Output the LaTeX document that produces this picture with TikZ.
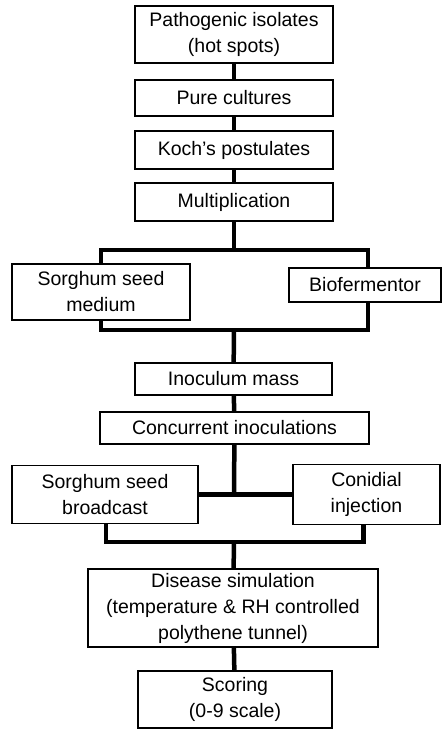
\documentclass[tikz,border=0pt]{standalone}
\usepackage{fontspec}
\setmainfont{Liberation Sans}
\begin{document}
\begin{tikzpicture}[x=1pt, y=-1pt,
    box/.style={draw, line width=1.8pt, align=center, inner sep=0pt,
        font=\fontsize{19.5}{26}\selectfont},
    link/.style={line width=4.5pt}]
    \useasboundingbox (0,0) rectangle (442,729);
    % boxes
    \node[box, minimum width=198, minimum height=57] (patho) at (234,34.5) {Pathogenic isolates\\(hot spots)};
    \node[box, minimum width=198, minimum height=36] (pure) at (234,98) {Pure cultures};
    \node[box, minimum width=198, minimum height=38] (koch) at (234,150) {Koch’s postulates};
    \node[box, minimum width=198, minimum height=38] (mult) at (234,202) {Multiplication};
    \node[box, minimum width=178, minimum height=56] (sorgmed) at (101,292) {Sorghum seed\\medium};
    \node[box, minimum width=152, minimum height=34] (biofer) at (365,285) {Biofermentor};
    \node[box, minimum width=197, minimum height=32] (inoc) at (233.5,379) {Inoculum mass};
    \node[box, minimum width=269, minimum height=32] (concur) at (234.5,428) {Concurrent inoculations};
    \node[box, minimum width=186, minimum height=58] (sorgbc) at (105,494.5) {Sorghum seed\\broadcast};
    \node[box, minimum width=147, minimum height=60] (conid) at (366.5,494.5) {Conidial\\injection};
    \node[box, minimum width=290, minimum height=78] (disease) at (233,608) {Disease simulation\\(temperature \& RH controlled\\polythene tunnel)};
    \node[box, minimum width=194, minimum height=57] (scoring) at (235,699.5) {Scoring\\(0-9 scale)};
    % junctions
    \coordinate (splitA) at (234,250);
    \coordinate (joinA) at (234,330);
    \coordinate (splitB) at (234,494.5);
    \coordinate (joinB) at (234,542);
    % connectors
    \draw[link] (patho) -- (pure);
    \draw[link] (pure) -- (koch);
    \draw[link] (koch) -- (mult);
    \draw[link] (mult) -- (splitA);
    \draw[link] (sorgmed.north) |- (splitA) -| ([xshift=3]biofer.north);
    \draw[link] (sorgmed.south) |- (joinA) -| ([xshift=3]biofer.south);
    \draw[link] (joinA) -- (inoc);
    \draw[link] (inoc) -- (concur);
    \draw[link] (concur) -- (splitB);
    \draw[link] (sorgbc) -- (conid);
    \draw[link] ([xshift=1]sorgbc.south) |- (joinB) -| ([xshift=-3]conid.south);
    \draw[link] (joinB) -- (disease);
    \draw[link] (disease) -- (scoring);
\end{tikzpicture}
\end{document}
